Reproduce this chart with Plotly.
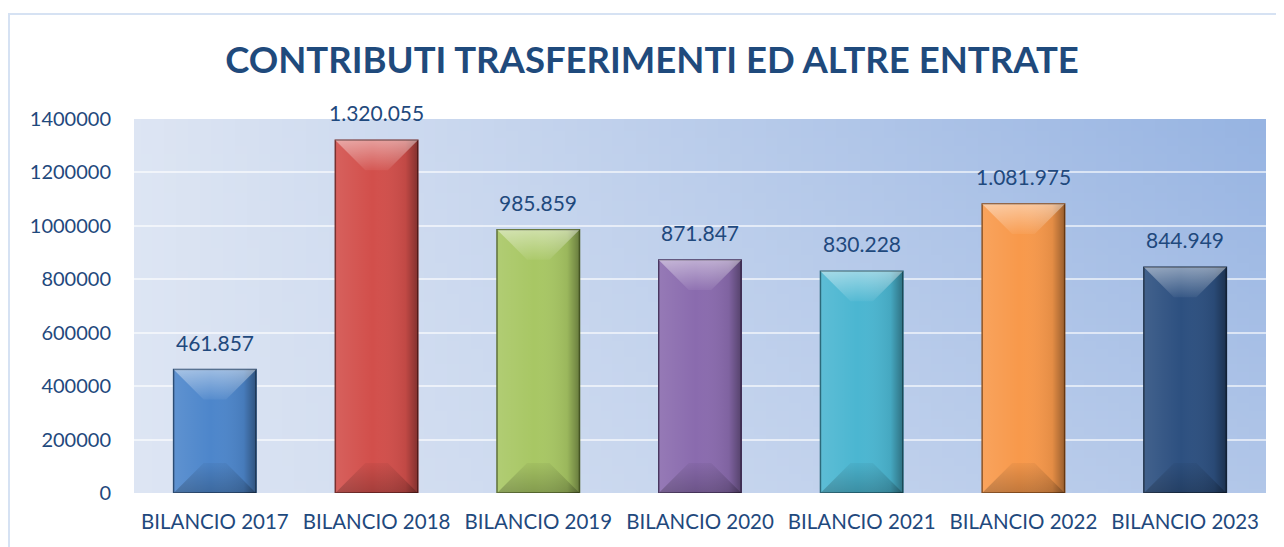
import zlib, struct, base64
import plotly.graph_objects as go

# ---------------- data ----------------
categories = ["BILANCIO 2017", "BILANCIO 2018", "BILANCIO 2019", "BILANCIO 2020",
              "BILANCIO 2021", "BILANCIO 2022", "BILANCIO 2023"]
values = [461857, 1320055, 985859, 871847, 830228, 1081975, 844949]
y_ticks = [0, 200000, 400000, 600000, 800000, 1000000, 1200000, 1400000]
title_text = "CONTRIBUTI TRASFERIMENTI ED ALTRE ENTRATE"

bar_colors = ["#4d86cb", "#d24f4b", "#a8c764", "#8a6bae", "#4bb6d1", "#f8994b", "#2d5080"]
edge_colors = ["#24466f", "#6e2220", "#55692a", "#45325c", "#216274", "#8a4a16", "#15273f"]

TEXT = "#1f497d"
FONT = "Lato"

# ---------------- layout geometry (page body has an 8px offset) ----------------
W, H = 1276, 539
ML, MR, MT, MB = 126, 18, 111, 54
PW, PH = W - ML - MR, H - MT - MB
YMAX = 1400000
BAR_W = 0.51
n = len(categories)

# ---------------- background gradient image ----------------
def png_data_uri(w, h, fn):
    raw = bytearray()
    for j in range(h):
        raw.append(0)
        for i in range(w):
            raw.extend(fn(i / (w - 1), j / (h - 1)))
    def chunk(tag, data):
        c = struct.pack('>I', len(data)) + tag + data
        return c + struct.pack('>I', zlib.crc32(tag + data) & 0xffffffff)
    png = (b'\x89PNG\r\n\x1a\n'
           + chunk(b'IHDR', struct.pack('>IIBBBBB', w, h, 8, 2, 0, 0, 0))
           + chunk(b'IDAT', zlib.compress(bytes(raw)))
           + chunk(b'IEND', b''))
    return 'data:image/png;base64,' + base64.b64encode(png).decode()

light = (221, 229, 243)
dark = (151, 180, 226)
def grad(u, v):
    t = u * (0.62 + 0.38 * (1 - v))
    t = max(0.0, min(1.0, t))
    return tuple(int(round(light[k] + (dark[k] - light[k]) * t)) for k in range(3))

bg_uri = png_data_uri(96, 48, grad)

# ---------------- figure ----------------
x_idx = list(range(n))
fig = go.Figure()
fig.add_trace(go.Bar(
    x=x_idx, y=values, width=BAR_W,
    marker=dict(color=bar_colors, line=dict(color=edge_colors, width=1.5)),
    hoverinfo="skip", showlegend=False,
))

# bevel decoration derived from the data through the axes
dx = 30 / (PW / n)
dy = 30 * YMAX / PH
for i, v in enumerate(values):
    L, R = i - BAR_W / 2, i + BAR_W / 2
    # body shading (left light -> right dark)
    fig.add_trace(go.Scatter(
        x=[L, R, R, L, L], y=[0, 0, v, v, 0], mode="lines", fill="toself",
        line=dict(width=0), hoverinfo="skip", showlegend=False,
        fillgradient=dict(type="horizontal", colorscale=[
            [0, "rgba(255,255,255,0.10)"], [0.45, "rgba(255,255,255,0.0)"],
            [0.85, "rgba(0,0,0,0.08)"], [1, "rgba(0,0,0,0.38)"]]),
    ))
    # top bevel
    fig.add_trace(go.Scatter(
        x=[L, R, R - dx, L + dx, L], y=[v, v, v - dy, v - dy, v], mode="lines", fill="toself",
        line=dict(width=0), hoverinfo="skip", showlegend=False,
        fillgradient=dict(type="vertical", colorscale=[
            [0, "rgba(255,255,255,0.05)"], [1, "rgba(255,255,255,0.45)"]]),
    ))
    # bottom bevel
    fig.add_trace(go.Scatter(
        x=[L, R, R - dx, L + dx, L], y=[0, 0, dy, dy, 0], mode="lines", fill="toself",
        line=dict(width=0), hoverinfo="skip", showlegend=False,
        fillgradient=dict(type="vertical", colorscale=[
            [0, "rgba(0,0,0,0.22)"], [1, "rgba(0,0,0,0.04)"]]),
    ))

# value labels
for i, v in enumerate(values):
    fig.add_annotation(
        x=i, y=v, text=f"{v:,}".replace(",", "."), showarrow=False,
        yanchor="bottom", yshift=13,
        font=dict(family=FONT, size=21, color=TEXT),
    )

fig.update_layout(
    width=W, height=H,
    margin=dict(l=ML, r=MR, t=MT, b=MB),
    paper_bgcolor="white",
    plot_bgcolor="rgba(0,0,0,0)",
    title=dict(text=title_text, x=644 / W, xanchor="center", y=1 - 52 / H, yanchor="middle",
               font=dict(family=FONT, size=36.5, color="#1f4a7c", weight="bold")),
    xaxis=dict(range=[-0.5, n - 0.5], tickvals=x_idx, ticktext=categories,
               showgrid=False, zeroline=False, showline=False, ticks="",
               tickfont=dict(family=FONT, size=20.5, color=TEXT), ticklabelstandoff=14,
               fixedrange=True),
    yaxis=dict(range=[0, YMAX], tickvals=y_ticks, ticktext=[str(t) for t in y_ticks],
               showgrid=True, gridcolor="rgba(255,255,255,0.6)", gridwidth=1.5,
               zeroline=False, showline=False, ticks="",
               tickfont=dict(family=FONT, size=20, color=TEXT), ticklabelstandoff=22,
               fixedrange=True),
    images=[dict(source=bg_uri, xref="paper", yref="paper", x=0, y=1, sizex=1, sizey=1,
                 xanchor="left", yanchor="top", sizing="stretch", layer="below")],
    shapes=[dict(type="rect", xref="paper", yref="paper",
                 x0=(1 - ML) / PW, x1=(1274 - ML) / PW,
                 y0=(H - MB - 580) / PH, y1=(H - MB - 6) / PH,
                 line=dict(color="#d6e2f3", width=2), fillcolor="rgba(0,0,0,0)",
                 layer="below")],
    showlegend=False,
)

fig.write_html("out.html")
